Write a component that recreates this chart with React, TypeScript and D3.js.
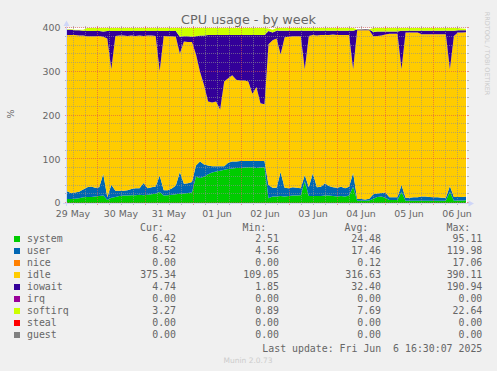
import React from 'react';
import * as d3 from 'd3';

// ---- data (2-hour samples, 29 May 08:30 -> 06 Jun 16:30) ----
const systemVals = [
  9, 9, 10, 11, 13, 14, 14, 15, 16, 17,
  7, 12, 14, 16, 17, 17, 18, 18, 19, 18,
  19, 20, 21, 25, 17, 18, 19, 20, 21, 22,
  23, 24, 60, 57, 60, 66, 70, 72, 74, 76,
  78, 79, 80, 80, 81, 82, 82, 80, 81, 82,
  11, 15, 15, 16, 15, 16, 17, 17, 18, 50,
  16, 16, 16, 16, 17, 17, 16, 15, 16, 15,
  17, 37, 5, 5, 5, 6, 10, 14, 15, 12,
  7, 7, 7, 26, 5, 5, 5, 5, 5, 5,
  5, 5, 5, 5, 5, 26, 5, 6, 6, 6.42,
];
const userVals = [
  18, 14, 14, 15, 18, 22, 24, 20, 20, 50,
  6, 30, 14, 12, 11, 12, 14, 16, 15, 28,
  15, 16, 17, 38, 12, 11, 14, 20, 50, 22,
  22, 24, 26, 38, 28, 20, 14, 12, 10, 8,
  14, 16, 15, 16, 15, 14, 14, 16, 15, 14,
  30, 20, 20, 55, 20, 18, 19, 18, 16, 14,
  20, 52, 20, 21, 28, 22, 20, 20, 21, 19,
  20, 32, 4, 4, 3, 4, 10, 8, 8, 12,
  6, 6, 6, 15, 7, 7, 8, 8, 10, 10,
  9, 8, 8, 7, 7, 13, 9, 8, 8, 8.52,
];
const idleVals = [
  357, 361, 360, 357, 352, 345, 343, 346, 346, 313,
  363, 264, 354, 355, 355, 353, 351, 348, 349, 336,
  349, 347, 344, 239, 353, 352, 348, 340, 271, 325,
  323, 320, 254, 205, 182, 146, 146, 148, 130, 194,
  193, 197, 187, 184, 184, 182, 154, 169, 132, 130,
  322, 337, 341, 269, 344, 346, 345, 346, 347, 242,
  346, 316, 347, 347, 339, 345, 349, 349, 347, 350,
  347, 237, 386, 386, 387, 385, 361, 360, 360, 361,
  374, 374, 374, 265, 378, 378, 377, 377, 371, 371,
  372, 373, 373, 374, 374, 267, 368, 376, 376, 375.34,
];
const iowaitVals = [
  12, 12, 11, 12, 11, 12, 12, 12, 11, 12,
  17, 87, 11, 10, 10, 11, 10, 11, 10, 11,
  10, 10, 11, 91, 11, 12, 12, 13, 38, 12,
  13, 12, 41, 83, 113, 152, 154, 152, 170, 106,
  99, 92, 102, 104, 104, 106, 134, 119, 156, 158,
  30, 18, 18, 54, 15, 14, 13, 13, 13, 88,
  12, 10, 11, 10, 10, 10, 9, 10, 10, 10,
  10, 88, 1.5, 1.5, 2, 1.5, 10, 10, 9, 7,
  5, 5, 5, 88, 4, 4, 4, 4, 8, 8,
  8, 8, 8, 8, 8, 88, 12, 5, 5, 4.74,
];
const softirqVals = [
  1, 1, 1, 1, 2, 7, 7, 7, 7, 8,
  7, 7, 7, 7, 7, 7, 7, 7, 7, 7,
  7, 7, 7, 7, 7, 7, 7, 7, 20, 19,
  19, 20, 19, 17, 17, 16, 16, 16, 16, 16,
  16, 16, 16, 16, 16, 16, 16, 16, 16, 16,
  6, 6, 6, 6, 6, 6, 6, 6, 6, 6,
  6, 6, 6, 6, 6, 6, 6, 6, 6, 6,
  6, 6, 0.5, 0.5, 0.5, 0.5, 9, 8, 8, 8,
  8, 8, 8, 6, 6, 6, 6, 6, 6, 6,
  6, 6, 6, 6, 6, 6, 6, 5, 4, 3.27,
];

const legendNames = ['system', 'user', 'nice', 'idle', 'iowait', 'irq', 'softirq', 'steal', 'guest'];
const legendColors = ['#00CC00', '#0066B3', '#FF8000', '#FFCC00', '#330099', '#990099', '#CCFF00', '#FF0000', '#808080'];
const curVals = ['6.42', '8.52', '0.00', '375.34', '4.74', '0.00', '3.27', '0.00', '0.00'];
const minVals = ['2.51', '4.56', '0.00', '109.05', '1.85', '0.00', '0.89', '0.00', '0.00'];
const avgVals = ['24.48', '17.46', '0.12', '316.63', '32.40', '0.00', '7.69', '0.00', '0.00'];
const maxVals = ['95.11', '119.98', '17.06', '390.11', '190.94', '0.00', '22.64', '0.00', '0.00'];
const yTicks = [0, 100, 200, 300, 400];
const headers = ['Cur:', 'Min:', 'Avg:', 'Max:'];

const stackKeys = ['system', 'user', 'idle', 'iowait', 'softirq'];
const stackColors: Record<string, string> = {
  system: '#00CC00', user: '#0066B3', idle: '#FFCC00', iowait: '#330099', softirq: '#CCFF00',
};

const W = 497, H = 371;
const FONT = 'DejaVu Sans';
const MONO = 'DejaVu Sans Mono';
const TXT = '#666666';
const GRID = 'rgba(143,143,143,0.6)';
const MGRID = 'rgba(222,79,79,0.6)';
const AXIS = '#CFD6F8';

export default function App() {
  const start = new Date(2025, 4, 29, 8, 30, 7);
  const end = new Date(2025, 5, 6, 16, 30, 7);
  const xTime = d3.scaleTime().domain([start, end]).range([66, 466]);
  const xIdx = d3.scaleLinear().domain([0, systemVals.length - 1]).range([67, 466]);
  const y = d3.scaleLinear().domain([0, 400]).range([203, 28]);
  const plotL = 67, plotR = 467, plotT = 28, plotB = 203;

  const rows = systemVals.map((_, i) => ({
    system: systemVals[i], user: userVals[i], idle: idleVals[i], iowait: iowaitVals[i], softirq: softirqVals[i],
  }));
  const series = d3.stack<any>().keys(stackKeys)(rows);
  const area = d3.area<any>()
    .x((_d, i) => xIdx(i))
    .y0((d) => y(d[0]))
    .y1((d) => y(d[1]))
    .curve(d3.curveLinear);

  const dayTicks = d3.timeDay.range(d3.timeDay.ceil(start), end);
  const minorTicks = d3.timeHour.every(6)!.range(start, end).filter((d) => d.getHours() !== 0);
  const labelDays = d3.timeDay.range(d3.timeDay.floor(start), end).map((d) => d3.timeHour.offset(d, 12));
  const fmt = d3.timeFormat('%d %b');

  const hMinor = d3.range(20, 401, 20).filter((v) => v % 100 !== 0);
  const hMajor = d3.range(0, 401, 100);

  const hy = (v: number) => Math.round(y(v)) - 0.5;
  const vx = (t: Date) => Math.round(xTime(t)) + 0.5;

  const colRight = [176, 279, 381, 482.3];
  const headerX = [140, 242.5, 344.5, 446.5];
  const colVals = [curVals, minVals, avgVals, maxVals];

  return (
    <svg width={W} height={H} style={{ position: 'absolute', left: 0, top: 0, display: 'block' }}>
      <rect x={0} y={0} width={W} height={H} fill="#F0F0F0" />
      <rect x={plotL} y={plotT} width={plotR - plotL} height={plotB - plotT} fill="#FFFFFF" />

      {series.map((s) => (
        <path key={s.key} d={area(s as any) || ''} fill={stackColors[s.key]} />
      ))}

      {/* grid */}
      <g shapeRendering="crispEdges" strokeWidth={1}>
        {hMinor.map((v) => (
          <g key={'hm' + v} stroke={GRID}>
            <line x1={plotL} x2={plotR} y1={hy(v)} y2={hy(v)} strokeDasharray="1,1" />
            <line x1={plotL - 2} x2={plotL} y1={hy(v)} y2={hy(v)} />
            <line x1={plotR} x2={plotR + 2} y1={hy(v)} y2={hy(v)} />
          </g>
        ))}
        {minorTicks.map((t) => (
          <g key={'vm' + t.getTime()} stroke={GRID}>
            <line x1={vx(t)} x2={vx(t)} y1={plotT} y2={plotB} strokeDasharray="1,1" />
            <line x1={vx(t)} x2={vx(t)} y1={plotB} y2={plotB + 2} />
            <line x1={vx(t)} x2={vx(t)} y1={plotT - 2} y2={plotT} />
          </g>
        ))}
        {hMajor.map((v) => (
          <g key={'hM' + v} stroke={MGRID}>
            <line x1={plotL} x2={plotR} y1={hy(v)} y2={hy(v)} strokeDasharray="1,1" />
            <line x1={plotL - 2} x2={plotL} y1={hy(v)} y2={hy(v)} />
            <line x1={plotR} x2={plotR + 2} y1={hy(v)} y2={hy(v)} />
          </g>
        ))}
        {dayTicks.map((t) => (
          <g key={'vM' + t.getTime()} stroke={MGRID}>
            <line x1={vx(t)} x2={vx(t)} y1={plotT} y2={plotB} strokeDasharray="1,1" />
            <line x1={vx(t)} x2={vx(t)} y1={plotB} y2={plotB + 2} />
            <line x1={vx(t)} x2={vx(t)} y1={plotT - 2} y2={plotT} />
          </g>
        ))}
      </g>

      {/* axes */}
      <g shapeRendering="crispEdges">
        <line x1={63} x2={470} y1={203.5} y2={203.5} stroke={AXIS} />
        <line x1={66.5} x2={66.5} y1={206} y2={24} stroke={AXIS} />
      </g>
      <polygon points="66.5,20.5 63.5,26 69.5,26" fill={AXIS} />
      <polygon points="474,203.5 468.5,200.5 468.5,206.5" fill={AXIS} />

      {/* title */}
      <text x={248.5} y={24} textAnchor="middle" fontFamily={FONT} fontSize={12.8} fill={TXT}>
        CPU usage - by week
      </text>

      {/* y labels */}
      {yTicks.map((v) => (
        <text key={'yl' + v} x={60.5} y={y(v) + 3.4} textAnchor="end" fontFamily={FONT} fontSize={9.4} fill={TXT}>
          {v}
        </text>
      ))}
      <text transform="translate(13.5,114) rotate(-90)" textAnchor="middle" fontFamily={FONT} fontSize={9.4} fill={TXT}>
        %
      </text>

      {/* x labels */}
      {labelDays.map((d) => (
        <text key={'xl' + d.getTime()} x={xTime(d)} y={216.5} textAnchor="middle" fontFamily={FONT} fontSize={9.4} fill={TXT}>
          {fmt(d)}
        </text>
      ))}

      {/* watermark */}
      <text transform="translate(485,53.5) rotate(90)" textAnchor="middle" fontFamily={FONT} fontSize={6.5} fill="#CCCCCC">
        RRDTOOL / TOBI OETIKER
      </text>

      {/* legend */}
      {headers.map((h, k) => (
        <text key={'h' + k} x={headerX[k]} y={230.5} fontFamily={MONO} fontSize={9.9} fill={TXT}>
          {h}
        </text>
      ))}
      {legendNames.map((name, r) => {
        const yb = 242.3 + 12 * r;
        return (
          <g key={'lg' + name}>
            <rect x={14} y={Math.round(yb - 6)} width={6} height={6} fill={legendColors[r]} />
            <text x={27} y={yb} fontFamily={MONO} fontSize={9.9} fill={TXT}>{name}</text>
            {colVals.map((vals, c) => (
              <text key={c} x={colRight[c]} y={yb} textAnchor="end" fontFamily={MONO} fontSize={9.9} fill={TXT}>
                {vals[r]}
              </text>
            ))}
          </g>
        );
      })}
      <text x={482.3} y={351.5} textAnchor="end" fontFamily={MONO} fontSize={9.9} fill={TXT} style={{ whiteSpace: 'pre' }}>
        {'Last update: Fri Jun  6 16:30:07 2025'}
      </text>
      <text x={248} y={363} textAnchor="middle" fontFamily={FONT} fontSize={7.5} fill="#CCCCCC">
        Munin 2.0.73
      </text>
    </svg>
  );
}
